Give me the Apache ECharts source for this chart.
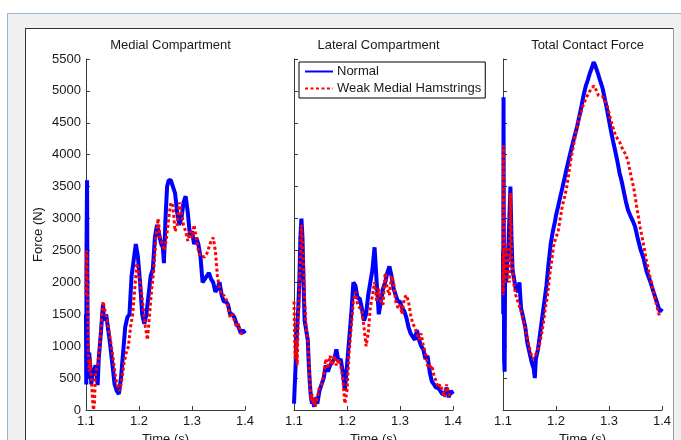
<!DOCTYPE html>
<html>
<head>
<meta charset="utf-8">
<script src="https://cdn.jsdelivr.net/npm/echarts@6/dist/echarts.min.js"></script>
<style>html,body{margin:0;padding:0;background:#fff;}#c{width:681px;height:440px;}</style>
</head>
<body>
<div id="c"></div>
<script>
const panelTitles = ['Medial Compartment', 'Lateral Compartment', 'Total Contact Force'];
const seriesNames = ['Normal', 'Weak Medial Hamstrings'];
const xTicks = [1.1, 1.2, 1.3, 1.4];
const yTicks = [0, 500, 1000, 1500, 2000, 2500, 3000, 3500, 4000, 4500, 5000, 5500];

const medialNormal = [[1.100,1500],[1.1005,400],[1.101,2600],[1.102,3600],[1.103,1200],[1.104,500],[1.106,900],[1.108,700],[1.110,400],[1.112,550],[1.114,550],[1.118,700],[1.122,390],[1.124,800],[1.128,1200],[1.132,1650],[1.134,1400],[1.138,1500],[1.142,1250],[1.146,1000],[1.150,700],[1.154,400],[1.158,300],[1.162,250],[1.166,500],[1.170,900],[1.174,1300],[1.178,1450],[1.182,1500],[1.186,2100],[1.190,2350],[1.194,2600],[1.198,2400],[1.202,2000],[1.206,1500],[1.210,1350],[1.214,1500],[1.218,1800],[1.222,2100],[1.226,2200],[1.230,2700],[1.234,2900],[1.238,2750],[1.242,2600],[1.245,2550],[1.247,2300],[1.250,3000],[1.253,3500],[1.256,3600],[1.260,3600],[1.264,3500],[1.268,3400],[1.272,3100],[1.276,2900],[1.280,3000],[1.284,3250],[1.288,3350],[1.292,3100],[1.296,2750],[1.300,2800],[1.304,2600],[1.308,2700],[1.312,2600],[1.316,2400],[1.320,2000],[1.324,2050],[1.328,2100],[1.332,2150],[1.336,2050],[1.340,2000],[1.344,1850],[1.348,1900],[1.352,2000],[1.356,1800],[1.360,1700],[1.364,1700],[1.368,1650],[1.372,1500],[1.376,1500],[1.380,1450],[1.384,1350],[1.388,1300],[1.392,1200],[1.396,1250],[1.400,1200]];

const medialWeak = [[1.100,1800],[1.101,2500],[1.102,2300],[1.104,1000],[1.106,600],[1.108,800],[1.110,500],[1.112,200],[1.114,0],[1.116,100],[1.118,600],[1.122,700],[1.126,1000],[1.130,1500],[1.132,1700],[1.136,1550],[1.140,1400],[1.144,1200],[1.148,1000],[1.152,750],[1.156,500],[1.160,350],[1.164,300],[1.168,500],[1.172,750],[1.176,900],[1.180,1000],[1.184,1300],[1.188,1500],[1.192,1900],[1.196,2300],[1.200,2100],[1.204,1900],[1.208,1600],[1.212,1300],[1.216,1100],[1.220,1500],[1.224,1900],[1.228,2200],[1.232,2700],[1.236,3000],[1.240,2700],[1.244,2600],[1.248,2500],[1.252,2700],[1.256,3000],[1.260,3250],[1.264,3200],[1.268,2800],[1.272,2900],[1.276,3250],[1.280,3100],[1.284,2900],[1.288,2800],[1.292,2650],[1.296,2800],[1.300,2700],[1.304,2900],[1.308,2700],[1.312,2500],[1.316,2400],[1.320,2400],[1.324,2400],[1.328,2450],[1.332,2550],[1.336,2650],[1.340,2700],[1.344,2500],[1.348,2100],[1.352,1900],[1.356,1800],[1.360,1800],[1.364,1750],[1.368,1600],[1.372,1450],[1.376,1500],[1.380,1400],[1.384,1300],[1.388,1350],[1.392,1200],[1.396,1200]];

const lateralNormal = [[1.100,100],[1.102,500],[1.104,900],[1.106,1300],[1.108,1600],[1.110,2000],[1.112,2700],[1.114,3000],[1.116,2700],[1.118,2000],[1.120,1400],[1.122,1300],[1.124,1300],[1.126,1100],[1.128,700],[1.130,400],[1.132,200],[1.134,100],[1.136,150],[1.138,50],[1.140,200],[1.144,100],[1.148,300],[1.152,400],[1.156,500],[1.160,700],[1.164,600],[1.168,700],[1.172,750],[1.176,800],[1.180,950],[1.184,750],[1.188,800],[1.192,600],[1.196,300],[1.200,700],[1.204,1100],[1.208,1500],[1.212,2000],[1.216,1950],[1.220,1750],[1.224,1750],[1.228,1600],[1.232,1400],[1.236,1500],[1.240,1800],[1.244,2000],[1.248,2200],[1.252,2550],[1.256,2000],[1.260,1500],[1.264,1700],[1.268,1900],[1.272,2000],[1.276,2150],[1.280,2250],[1.284,2100],[1.288,1900],[1.292,1800],[1.296,1700],[1.300,1700],[1.304,1600],[1.308,1550],[1.312,1450],[1.316,1300],[1.320,1200],[1.324,1150],[1.328,1100],[1.332,1250],[1.336,1100],[1.340,1000],[1.344,950],[1.348,800],[1.352,850],[1.356,600],[1.360,450],[1.364,400],[1.368,350],[1.372,350],[1.376,300],[1.380,250],[1.384,250],[1.388,350],[1.392,200],[1.396,300],[1.400,250]];

const lateralWeak = [[1.100,1700],[1.102,800],[1.104,1100],[1.106,700],[1.108,1400],[1.110,1800],[1.112,2400],[1.114,2900],[1.116,2900],[1.118,2300],[1.120,1700],[1.122,1400],[1.124,1200],[1.126,1100],[1.128,800],[1.130,400],[1.132,150],[1.134,250],[1.136,100],[1.138,200],[1.140,50],[1.144,200],[1.148,350],[1.152,400],[1.156,550],[1.160,800],[1.164,650],[1.168,850],[1.172,700],[1.176,850],[1.180,700],[1.184,800],[1.188,700],[1.192,500],[1.196,100],[1.200,300],[1.204,900],[1.208,1300],[1.212,1700],[1.216,1850],[1.220,1650],[1.224,1600],[1.228,1550],[1.232,1300],[1.236,1000],[1.240,1200],[1.244,1600],[1.248,1800],[1.252,2000],[1.256,1700],[1.260,1900],[1.264,1700],[1.268,1650],[1.272,2150],[1.276,1900],[1.280,1800],[1.284,2100],[1.288,2000],[1.292,1700],[1.296,1600],[1.300,1650],[1.304,1500],[1.308,1750],[1.312,1800],[1.316,1700],[1.320,1500],[1.324,1350],[1.328,1300],[1.332,1200],[1.336,1100],[1.340,1200],[1.344,1000],[1.348,900],[1.352,700],[1.356,650],[1.360,700],[1.364,550],[1.368,450],[1.372,350],[1.376,400],[1.380,300],[1.384,200],[1.388,400],[1.392,250],[1.396,200]];

const totalNormal = [[1.100,2500],[1.1005,1500],[1.101,4900],[1.102,800],[1.103,600],[1.104,2200],[1.106,2000],[1.108,2300],[1.110,2500],[1.112,2500],[1.114,3500],[1.116,2700],[1.118,2200],[1.120,2100],[1.124,1900],[1.128,1850],[1.131,2000],[1.134,1600],[1.138,1450],[1.142,1300],[1.146,1050],[1.150,900],[1.154,750],[1.158,650],[1.160,500],[1.162,800],[1.166,950],[1.170,1200],[1.174,1450],[1.178,1700],[1.182,1950],[1.186,2300],[1.190,2600],[1.194,2800],[1.198,2950],[1.200,3050],[1.204,3190],[1.208,3340],[1.212,3480],[1.216,3630],[1.220,3780],[1.224,3920],[1.228,4060],[1.232,4190],[1.236,4320],[1.240,4450],[1.244,4600],[1.248,4760],[1.252,4930],[1.256,5070],[1.260,5170],[1.264,5280],[1.268,5370],[1.271,5450],[1.274,5400],[1.276,5350],[1.280,5250],[1.284,5140],[1.288,5040],[1.292,4880],[1.296,4720],[1.300,4540],[1.304,4360],[1.308,4200],[1.312,4050],[1.316,3890],[1.320,3710],[1.324,3580],[1.328,3420],[1.332,3260],[1.336,3130],[1.340,3050],[1.344,2980],[1.349,2880],[1.354,2700],[1.359,2530],[1.365,2380],[1.371,2170],[1.378,2010],[1.384,1850],[1.390,1700],[1.396,1540],[1.400,1590]];

const totalWeak = [[1.100,2500],[1.1005,1800],[1.101,4150],[1.102,2300],[1.104,2000],[1.106,2600],[1.108,2300],[1.110,2100],[1.112,2000],[1.114,3400],[1.116,2500],[1.118,2200],[1.120,2000],[1.124,1800],[1.128,1700],[1.132,1600],[1.136,1500],[1.140,1350],[1.144,1200],[1.148,1050],[1.152,900],[1.156,800],[1.160,850],[1.164,900],[1.168,1000],[1.172,1150],[1.176,1350],[1.180,1600],[1.184,1800],[1.188,2100],[1.192,2350],[1.196,2600],[1.200,2700],[1.204,2800],[1.208,3000],[1.212,3200],[1.216,3330],[1.220,3480],[1.224,3700],[1.228,3920],[1.232,4100],[1.236,4280],[1.240,4440],[1.244,4580],[1.248,4690],[1.252,4790],[1.256,4870],[1.260,4940],[1.264,5000],[1.268,5050],[1.272,5080],[1.276,5010],[1.280,4930],[1.284,4910],[1.288,4910],[1.292,4850],[1.296,4780],[1.300,4650],[1.304,4520],[1.308,4410],[1.312,4310],[1.316,4250],[1.320,4200],[1.324,4120],[1.328,4050],[1.332,4000],[1.336,3890],[1.340,3730],[1.344,3580],[1.348,3420],[1.352,3200],[1.356,3000],[1.359,2850],[1.365,2600],[1.371,2320],[1.378,2060],[1.384,1850],[1.390,1640],[1.395,1480]];

const panelData = [[medialNormal, medialWeak], [lateralNormal, lateralWeak], [totalNormal, totalWeak]];

const gridLefts = [86, 294, 503];
const gridWidth = 159;
const gridTop = 59;
const gridHeight = 351;
const font = '"Liberation Sans", Arial, sans-serif';
const txt = '#1a1a1a';
const axisCol = '#3a3a3a';

const grids = [], xAxes = [], yAxes = [], series = [], titles = [];
for (let i = 0; i < 3; i++) {
  grids.push({ left: gridLefts[i], top: gridTop, width: gridWidth, height: gridHeight, containLabel: false, outerBoundsMode: 'none' });
  xAxes.push({
    type: 'value', gridIndex: i, min: xTicks[0], max: xTicks[xTicks.length - 1], interval: 0.1,
    name: 'Time (s)', nameLocation: 'middle', nameGap: 19,
    nameTextStyle: { fontFamily: font, fontSize: 13, color: txt, verticalAlign: 'top' },
    axisLine: { show: true, lineStyle: { color: axisCol, width: 1 } },
    axisTick: { show: true, inside: true, length: 4, lineStyle: { color: axisCol } },
    axisLabel: { fontFamily: font, fontSize: 13, color: txt, margin: 5, showMinLabel: true, showMaxLabel: true,
      formatter: v => v.toFixed(1) },
    splitLine: { show: false }
  });
  yAxes.push({
    type: 'value', gridIndex: i, min: yTicks[0], max: yTicks[yTicks.length - 1], interval: 500,
    name: i === 0 ? 'Force (N)' : '', nameLocation: 'middle', nameGap: 41, nameRotate: 90,
    nameTextStyle: { fontFamily: font, fontSize: 13, color: txt },
    axisLine: { show: true, lineStyle: { color: axisCol, width: 1 } },
    axisTick: { show: true, inside: true, length: 4, lineStyle: { color: axisCol } },
    axisLabel: { show: i === 0, fontFamily: font, fontSize: 13, color: txt, margin: 5,
      formatter: v => String(Math.round(v)) },
    splitLine: { show: false }
  });
  titles.push({
    text: panelTitles[i], left: gridLefts[i] + gridWidth / 2, top: 34, textAlign: 'center',
    textStyle: { fontFamily: font, fontSize: 13, fontWeight: 'normal', color: txt }
  });
  series.push({
    name: seriesNames[0], type: 'line', xAxisIndex: i, yAxisIndex: i, data: panelData[i][0],
    showSymbol: false, symbol: 'none', smooth: false, animation: false, z: 2,
    lineStyle: { color: '#0000ff', width: 4 }, itemStyle: { color: '#0000ff' }
  });
  series.push({
    name: seriesNames[1], type: 'line', xAxisIndex: i, yAxisIndex: i, data: panelData[i][1],
    showSymbol: false, symbol: 'none', smooth: false, animation: false, z: 3,
    lineStyle: { color: '#ff0000', width: 3, type: [3, 2.5] }, itemStyle: { color: '#ff0000' }
  });
}

const chart = echarts.init(document.getElementById('c'), null, { renderer: 'canvas' });
chart.setOption({
  backgroundColor: '#ffffff',
  animation: false,
  title: titles,
  grid: grids,
  xAxis: xAxes,
  yAxis: yAxes,
  legend: {
    data: seriesNames, orient: 'vertical', left: 299, top: 62,
    itemWidth: 28, itemHeight: 10, itemGap: 4,
    padding: [3, 4, 3, 5],
    borderColor: '#000', borderWidth: 1, backgroundColor: '#fff',
    itemStyle: { opacity: 0, borderWidth: 0 },
    textStyle: { fontFamily: font, fontSize: 13, color: txt, padding: [0, 0, 0, -1] }
  },
  graphic: [
    { type: 'rect', silent: true, z: -10, shape: { x: 7, y: 13, width: 680, height: 440 }, style: { fill: '#f0f0f0' } },
    { type: 'line', silent: true, z: -9, shape: { x1: 7, y1: 13.5, x2: 681, y2: 13.5 }, style: { stroke: '#99b4d1', lineWidth: 1 } },
    { type: 'line', silent: true, z: -9, shape: { x1: 7.5, y1: 13, x2: 7.5, y2: 440 }, style: { stroke: '#99b4d1', lineWidth: 1 } },
    { type: 'rect', silent: true, z: -8, shape: { x: 25, y: 28, width: 648, height: 420 }, style: { fill: '#ffffff' } },
    { type: 'line', silent: true, z: -7, shape: { x1: 25, y1: 28.5, x2: 673, y2: 28.5 }, style: { stroke: '#333', lineWidth: 1 } },
    { type: 'line', silent: true, z: -7, shape: { x1: 25.5, y1: 28, x2: 25.5, y2: 440 }, style: { stroke: '#333', lineWidth: 1 } },
    { type: 'line', silent: true, z: -7, shape: { x1: 673.5, y1: 28, x2: 673.5, y2: 440 }, style: { stroke: '#a0a0a0', lineWidth: 1 } }
  ],
  series: series
});
</script>
</body>
</html>
